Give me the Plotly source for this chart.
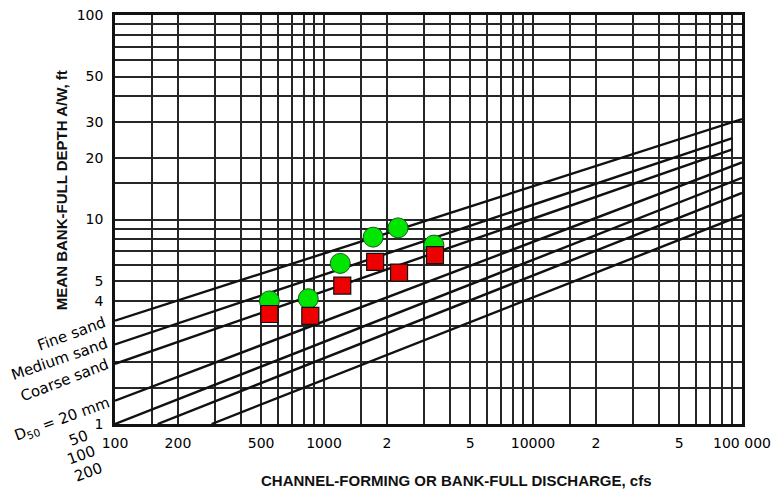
import plotly.graph_objects as go

# ---- data ----
x_major = [100, 200, 500, 1000, 2000, 5000, 10000, 20000, 50000, 100000]
x_major_text = ["100", "200", "500", "1000", "2", "5", "10000", "2", "5", "100 000"]
x_minor = [150, 300, 400, 600, 700, 800, 900,
           1500, 3000, 4000, 6000, 7000, 8000, 9000,
           15000, 30000, 40000, 60000, 70000, 80000, 90000]
y_major = [1, 4, 5, 10, 20, 30, 50, 100]
y_major_text = ["1", "4", "5", "10", "20", "30", "50", "100"]
y_minor = [1.5, 2, 3, 6, 7, 8, 9, 15, 40, 60, 70, 80, 90]

# sediment-size lines (endpoints in data space)
line_names = ["Fine sand", "Medium sand", "Coarse sand", "D50 = 20 mm", "50", "100", "200"]
line_x0 = [100, 100, 100, 100, 100, 160, 290]
line_y0 = [3.2, 2.45, 1.97, 1.3, 1.0, 1.0, 1.0]
line_x1 = [100000, 90000, 90000, 100000, 100000, 100000, 100000]
line_y1 = [31, 25, 22, 19, 16, 13.5, 10.5]

# observed data points
green_x = [548, 841, 1196, 1718, 2261, 3357]
green_y = [4.0, 4.1, 6.1, 8.2, 9.1, 7.5]
red_x = [548, 860, 1223, 1757, 2286, 3396]
red_y = [3.45, 3.38, 4.75, 6.2, 5.5, 6.7]

fig = go.Figure()

for i, name in enumerate(line_names):
    fig.add_trace(go.Scatter(
        x=[line_x0[i], line_x1[i]], y=[line_y0[i], line_y1[i]],
        mode="lines", line=dict(color="#111111", width=2.4),
        showlegend=False, hoverinfo="skip", name=name))

fig.add_trace(go.Scatter(
    x=green_x, y=green_y, mode="markers",
    marker=dict(symbol="circle", size=20, color="#00e600",
                line=dict(color="#1a5a1a", width=1)),
    showlegend=False))
fig.add_trace(go.Scatter(
    x=red_x, y=red_y, mode="markers",
    marker=dict(symbol="square", size=17, color="#ee0000",
                line=dict(color="#111111", width=1.2)),
    showlegend=False))

grid_color = "#262626"
tick_font = dict(family="DejaVu Sans", size=14, color="#000000")

fig.update_xaxes(
    type="log", range=[2, 5], automargin=False,
    tickvals=x_major, ticktext=x_major_text, tickfont=tick_font,
    ticks="", showgrid=True, gridcolor=grid_color, gridwidth=2.2,
    minor=dict(tickvals=x_minor, showgrid=True, gridcolor=grid_color, gridwidth=2.2, ticks=""),
    showline=True, linecolor="#111111", linewidth=2.5, mirror=True,
    zeroline=False, ticklabelstandoff=4)
fig.update_yaxes(
    type="log", range=[0, 2], automargin=False,
    tickvals=y_major, ticktext=y_major_text, tickfont=tick_font,
    ticks="", showgrid=True, gridcolor=grid_color, gridwidth=2.2,
    minor=dict(tickvals=y_minor, showgrid=True, gridcolor=grid_color, gridwidth=2.2, ticks=""),
    showline=True, linecolor="#111111", linewidth=2.5, mirror=True,
    zeroline=False, ticklabelstandoff=6)

ann_font = dict(family="DejaVu Sans", size=15, color="#000000")
title_font = dict(family="Liberation Sans", size=15, color="#111111")

annotations = [
    dict(text="<b>CHANNEL-FORMING OR BANK-FULL DISCHARGE, cfs</b>", x=0.544, y=-0.137,
         font=title_font, textangle=0),
    dict(text="<b>MEAN BANK-FULL DEPTH A/W, ft</b>", x=-0.086, y=0.572,
         font=title_font, textangle=-90),
    dict(text="Fine sand", x=-0.070, y=0.220, font=ann_font, textangle=-20),
    dict(text="Medium sand", x=-0.088, y=0.159, font=ann_font, textangle=-19),
    dict(text="Coarse sand", x=-0.080, y=0.108, font=ann_font, textangle=-21),
    dict(text="D<sub>50</sub> = 20 mm", x=-0.085, y=0.012, font=ann_font, textangle=-20),
    dict(text="50", x=-0.058, y=-0.034, font=ann_font, textangle=-20),
    dict(text="100", x=-0.053, y=-0.076, font=ann_font, textangle=-20),
    dict(text="200", x=-0.042, y=-0.117, font=ann_font, textangle=-20),
]
for a in annotations:
    a.update(xref="paper", yref="paper", showarrow=False, xanchor="center", yanchor="middle")

fig.update_layout(
    width=783, height=491,
    margin=dict(l=115, r=41, t=15, b=67),
    paper_bgcolor="white", plot_bgcolor="white",
    annotations=annotations, showlegend=False)

# remove the page's default 8px body margin so the figure sits at the window origin
fig.write_html("out.html",
               config={"displayModeBar": False},
               post_script="document.body.style.margin='0';document.body.style.overflow='hidden';")
